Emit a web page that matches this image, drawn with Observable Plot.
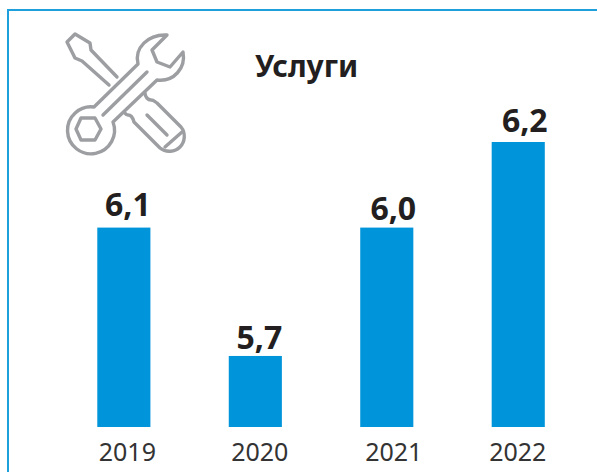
<!DOCTYPE html>
<html lang="ru">
<head>
<meta charset="utf-8">
<script src="https://cdn.jsdelivr.net/npm/d3@7"></script>
<script src="https://cdn.jsdelivr.net/npm/@observablehq/plot@0.6"></script>
<style>
html,body{margin:0;padding:0;background:#fff;overflow:hidden}
#wrap{position:relative;width:597px;height:472px;overflow:hidden}
#frame{position:absolute;left:7px;top:9px;width:590px;height:463px;box-sizing:border-box;border-top:2px solid #1ea0dc;border-left:2px solid #1ea0dc}
#title{position:absolute;left:255px;top:46px;font:700 30px "Noto Sans",sans-serif;color:#231f20;line-height:40px}
#icon{position:absolute;left:0;top:0}
#chart{position:absolute;left:0;top:0}
</style>
</head>
<body>
<div id="wrap">
<div id="chart"></div>
<div id="frame"></div>
<div id="title">Услуги</div>
<svg id="icon" width="200" height="170" fill="none" stroke="#9c9ea1" stroke-width="3.4" stroke-linejoin="round" stroke-linecap="round">
<path d="M117,77 L91,50 L90,43 L75,34 L67,42 L75,58 L82,61 L109,85"/>
<path d="M145,93 C145,97 148,100 151,100 C154,100 155,102 157,103 L181,127 C186,133 185,142 180,147 C175,152 166,153 160,148 L134,122 C133,118 131,115 128,115 C126,115 125,113 124,112"/>
<path d="M147,115 L167,135 M165,147 L182,132"/>
<path d="M94,107 L138,64 C134,48 148,34 167,35 L152,50 L157,62 L170,67 L183,52 C186,68 174,82 157,80 L113,122 A23.5,23.5 0 1 1 94,107 Z"/>
<path d="M103,115 L147,72"/>
<path d="M81,118 L95,118 L101,129 L95,140 L81,140 L76,129 Z"/>
</svg>
</div>
<script>
const years = ["2019", "2020", "2021", "2022"];
const barValues = [6.0, 5.7, 6.0, 6.2];
const valueLabels = ["6,1", "5,7", "6,0", "6,2"];
const yBaseline = 5.534;

const rows = years.map((year, i) => ({year, value: barValues[i], label: valueLabels[i]}));

// Per-label nudges seen in the reference: [label dx, label dy, year dx]
const nudges = {
  "2019": [3.5, -22, 3],
  "2020": [3.5, -18, 4],
  "2021": [6, -18, 6.5],
  "2022": [6, -21, -1]
};

const chart = Plot.plot({
  width: 597,
  height: 472,
  marginTop: 0,
  marginBottom: 0,
  marginLeft: 0,
  marginRight: 0,
  style: {background: "transparent", fontFamily: "'Noto Sans',sans-serif"},
  x: {domain: years, range: [97.3, 544.8], paddingInner: 0.596, paddingOuter: 0, align: 0, round: false, axis: null},
  y: {domain: [yBaseline, 6.2], range: [427, 142], axis: null},
  marks: [
    Plot.barY(rows, {x: "year", y1: yBaseline, y2: "value", fill: "#0095da"}),
    ...rows.flatMap(row => [
      Plot.text([row], {x: "year", y: "value", text: "label", dx: nudges[row.year][0], dy: nudges[row.year][1], fontSize: 32, fontWeight: 700, fill: "#231f20"}),
      Plot.text([row], {x: "year", y: yBaseline, text: "year", dx: nudges[row.year][2], dy: 25, fontSize: 25, fill: "#333333"})
    ])
  ]
});
document.getElementById("chart").append(chart);
</script>
</body>
</html>
